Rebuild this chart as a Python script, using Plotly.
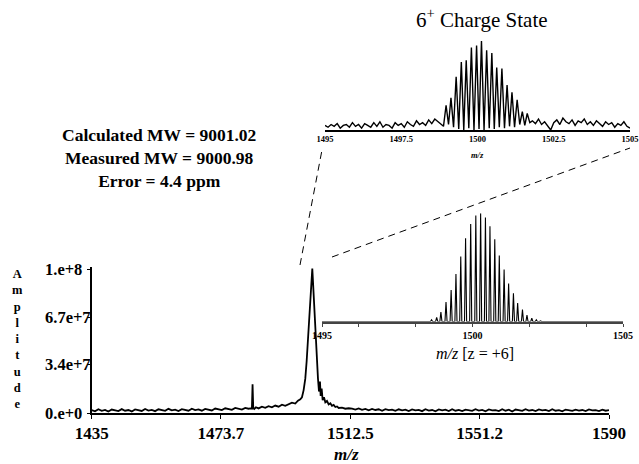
import plotly.graph_objects as go

W, H = 639, 464
FONT = "Liberation Serif, Times New Roman, serif"

# ---------------- main spectrum (amplitude in units of 1e6) ----------------
main_mz_a = list(range(1435, 1483))
main_amp_a = [2.0,1.2,2.6,1.5,2.2,1.0,2.4,1.8,1.3,2.7,
              1.6,2.1,1.1,2.5,1.9,1.4,2.8,1.7,2.2,1.3,
              2.6,2.0,1.5,2.9,1.8,2.3,1.4,2.7,2.1,1.6,
              3.0,2.0,2.5,1.6,2.9,2.2,1.8,3.1,2.4,2.0,
              3.3,2.6,2.2,3.5,2.8,2.4,3.6,3.0]
main_mz_b = [1482.6,1483.0,1483.2,1483.4,1483.7,1484.2,1485,1486,1487,1488,1489,
             1490,1491,1492,1493,1494,1495,1496,1496.8,1497.5]
main_amp_b = [3.2,3.0,20.0,3.4,2.8,4.0,3.2,4.4,3.6,4.8,4.0,
              5.2,4.4,5.8,5.0,6.4,7.2,6.6,8.6,9.5]
main_mz_c = [1498.0,1498.5,1499.0,1499.4,1499.8,1500.2,1500.6,1500.9,1501.1,1501.3,
             1501.6,1501.9,1502.2,1502.5,1502.8,1503.1,1503.4,1503.6,1503.9,1504.2,
             1504.6,1505.0,1505.5,1506.0,1506.5,1507,1507.5,1508,1508.5,1509,1510,1511,1512]
main_amp_c = [11,16,24,36,52,68,82,94,101,92,
              78,58,42,30,24,15,22,12,17,9,
              11,7.5,8.5,6,6.8,5,5.6,4.2,4.6,3.5,3.8,3.0,3.3]
main_mz_d = list(range(1513, 1591))
main_amp_d = [3.0,2.4,3.2,2.2,2.8,1.9,2.9,2.1,2.6,1.6,
              2.7,2.0,2.4,1.5,2.6,1.9,2.3,1.4,2.5,1.8,
              2.2,1.3,2.6,1.7,2.1,1.2,2.5,1.8,2.3,1.4,
              2.7,1.6,2.2,1.3,2.4,1.9,1.5,2.6,1.7,2.2,
              1.2,2.5,1.8,2.0,1.4,2.6,1.6,2.3,1.1,2.4,
              1.9,1.5,2.7,1.7,2.1,1.3,2.5,1.8,2.2,1.4,
              2.6,1.6,2.0,1.2,2.4,1.9,1.5,2.3,1.7,2.1,
              1.3,2.5,1.8,2.0,1.4,2.3,1.6,2.0]
main_xticks = [1435, 1473.7, 1512.5, 1551.2, 1590]
main_yticks = [0, 3.4e7, 6.7e7, 1e8]
main_ytext = ["0.e+0", "3.4e+7", "6.7e+7", "1.e+8"]

# ---------------- top inset: measured 6+ charge state ----------------
top_noise_left = [5,3,6,4,7,2,5,6,3,8,4,6,2,7,5,3,8,4,9,3,
                  6,5,2,8,5,7,3,9,6,4,10,6,8,5,11,7,12,9]          # 1495.0 .. 1498.7
top_peak_mz = [1498.97,1499.13,1499.30,1499.47,1499.63,1499.80,1499.97,1500.13,1500.30,
               1500.47,1500.63,1500.80,1500.97,1501.13,1501.30,1501.47,1501.63]
top_peak_h = [27,35,58,74,76,90,92,97,87,84,68,67,49,41,33,20,18]
top_valley_h = [4,6,3,1,0,2,0,1,0,2,1,3,2,4,3,6,5,8]
top_noise_right = [10,7,12,6,9,4,0,8,11,6,13,9,7,11,5,10,8,12,6,9,
                   5,10,7,4,9,6,8,3,7,5,9,4,2]                      # 1501.8 .. 1505.0
top_xticks = [1495, 1497.5, 1500, 1502.5, 1505]

# ---------------- bottom inset: theoretical isotope distribution ----------------
iso_mz = [1498.64,1498.81,1498.95,1499.12,1499.29,1499.45,1499.61,1499.77,1499.94,1500.11,
          1500.27,1500.43,1500.58,1500.74,1500.89,1501.05,1501.20,1501.36,1501.50,1501.66,
          1501.81,1501.97,1502.12,1502.26]
iso_h = [1.6,3.8,8.8,18,29,44,60,77,90,98,100,96,88,76,61,48,35,26,17,11,6,3,1.6,0.6]
bot_ticks_minor = [1496.2, 1498.1, 1501.9, 1503.8]
bot_xticks = [1495, 1500, 1505]

# ---------------- build traces ----------------
mx = main_mz_a + main_mz_b + main_mz_c + main_mz_d
my = [v * 1e6 for v in (main_amp_a + main_amp_b + main_amp_c + main_amp_d)]

tx = [round(1495 + 0.1 * i, 2) for i in range(len(top_noise_left))]
ty = list(top_noise_left)
valley_mz = ([top_peak_mz[0] - 0.085]
             + [(a + b) / 2 for a, b in zip(top_peak_mz[:-1], top_peak_mz[1:])]
             + [top_peak_mz[-1] + 0.085])
for i, (pm, ph) in enumerate(zip(top_peak_mz, top_peak_h)):
    tx.append(valley_mz[i]); ty.append(top_valley_h[i])
    tx.append(pm); ty.append(ph)
tx.append(valley_mz[-1]); ty.append(top_valley_h[-1])
tx += [round(1501.8 + 0.1 * i, 2) for i in range(len(top_noise_right))]
ty += top_noise_right

bx, by = [1495], [0]
for m, h in zip(iso_mz, iso_h):
    bx += [m - 0.035, m, m + 0.035]
    by += [0, h, 0]
bx.append(1505); by.append(0)

fig = go.Figure()
fig.add_trace(go.Scatter(x=mx, y=my, mode="lines", line=dict(color="black", width=1.8),
                         xaxis="x", yaxis="y", showlegend=False, hoverinfo="skip"))
fig.add_trace(go.Scatter(x=tx, y=ty, mode="lines", line=dict(color="black", width=1.4),
                         xaxis="x2", yaxis="y2", showlegend=False, hoverinfo="skip"))
fig.add_trace(go.Scatter(x=bx, y=by, mode="lines", line=dict(color="black", width=1.1),
                         xaxis="x3", yaxis="y3", showlegend=False, hoverinfo="skip"))

def px(x):
    return x / W

def py(y):
    return 1 - y / H

bold = dict(family=FONT, color="black")
noax = dict(showgrid=False, zeroline=False, automargin=False)

fig.update_layout(
    template="none",
    width=W, height=H,
    margin=dict(l=0, r=0, t=0, b=0, pad=0, autoexpand=False),
    paper_bgcolor="white", plot_bgcolor="rgba(0,0,0,0)",
    font=dict(family=FONT, color="black"),
    hovermode=False,
    xaxis=dict(domain=[px(91.7), px(609)], range=[1435, 1590], anchor="y", **noax,
               showline=True, linecolor="black", linewidth=1.5,
               ticks="outside", ticklen=4, tickwidth=1, tickcolor="black", tickvals=main_xticks,
               ticktext=["<b>%g</b>" % v for v in main_xticks],
               tickfont=dict(size=17, **bold)),
    yaxis=dict(domain=[py(413), py(267.1)], range=[0, 1.02e8], anchor="x", **noax,
               showline=True, linecolor="black", linewidth=1.5,
               ticks="outside", ticklen=3, tickwidth=1, tickcolor="black", tickvals=main_yticks,
               showticklabels=False),
    xaxis2=dict(domain=[px(325), px(630)], range=[1495, 1505], anchor="y2", **noax,
                showline=True, linecolor="black", linewidth=2,
                ticks="", tickvals=top_xticks,
                ticktext=["<b>%g</b>" % v for v in top_xticks],
                tickfont=dict(size=8.5, **bold)),
    yaxis2=dict(domain=[py(130), py(38.3)], range=[0, 100], anchor="x2", visible=False, **noax),
    xaxis3=dict(domain=[px(322), px(623)], range=[1495, 1505], anchor="y3", **noax,
                showline=True, linecolor="#444", linewidth=2,
                ticks="outside", ticklen=3, tickwidth=1, tickcolor="#444", tickvals=bot_xticks,
                ticktext=["<b>%g</b>" % v for v in bot_xticks],
                tickfont=dict(size=10, **bold),
                minor=dict(ticks="outside", ticklen=3, tickwidth=1, tickcolor="#444",
                           tickvals=bot_ticks_minor, showgrid=False)),
    yaxis3=dict(domain=[py(321.5), py(213.3)], range=[0, 100], anchor="x3", visible=False, **noax),
)

ann = []
for v, t in zip(main_yticks, main_ytext):
    ann.append(dict(x=px(43), xref="paper", y=v, yref="y", xanchor="left", yanchor="middle",
                    text="<b>%s</b>" % t, showarrow=False, font=dict(size=16.5, **bold)))

def label(x, y, text, size, align="center"):
    return dict(x=px(x), y=py(y), xref="paper", yref="paper", showarrow=False,
                xanchor="center", yanchor="middle", align=align, text=text,
                font=dict(size=size, **bold))

ann += [
    label(17, 339, "<b>" + "<br>".join("Amplitude") + "</b>", 12.5),
    label(347, 454, "<b><i>m/z</i></b>", 17),
    label(159, 158, "<b>Calculated MW = 9001.02<br>Measured MW = 9000.98<br>Error = 4.4 ppm</b>", 17.5),
    label(482, 19, "6<sup>+</sup> Charge State", 21),
    label(477, 155, "<b><i>m/z</i></b>", 8.5),
    label(475, 353, "<i>m/z</i> [z = +6]", 16),
]
fig.update_layout(annotations=ann)

dash = dict(color="black", width=1, dash="7px,5px")
fig.update_layout(shapes=[
    dict(type="line", xref="paper", yref="paper", x0=px(300), y0=py(265), x1=px(322), y1=py(150), line=dash),
    dict(type="line", xref="paper", yref="paper", x0=px(332), y0=py(257), x1=px(630), y1=py(148), line=dash),
])

fig.write_html("out.html", config={"displayModeBar": False, "staticPlot": True},
               post_script="document.body.style.margin='0';document.body.style.padding='0';")
